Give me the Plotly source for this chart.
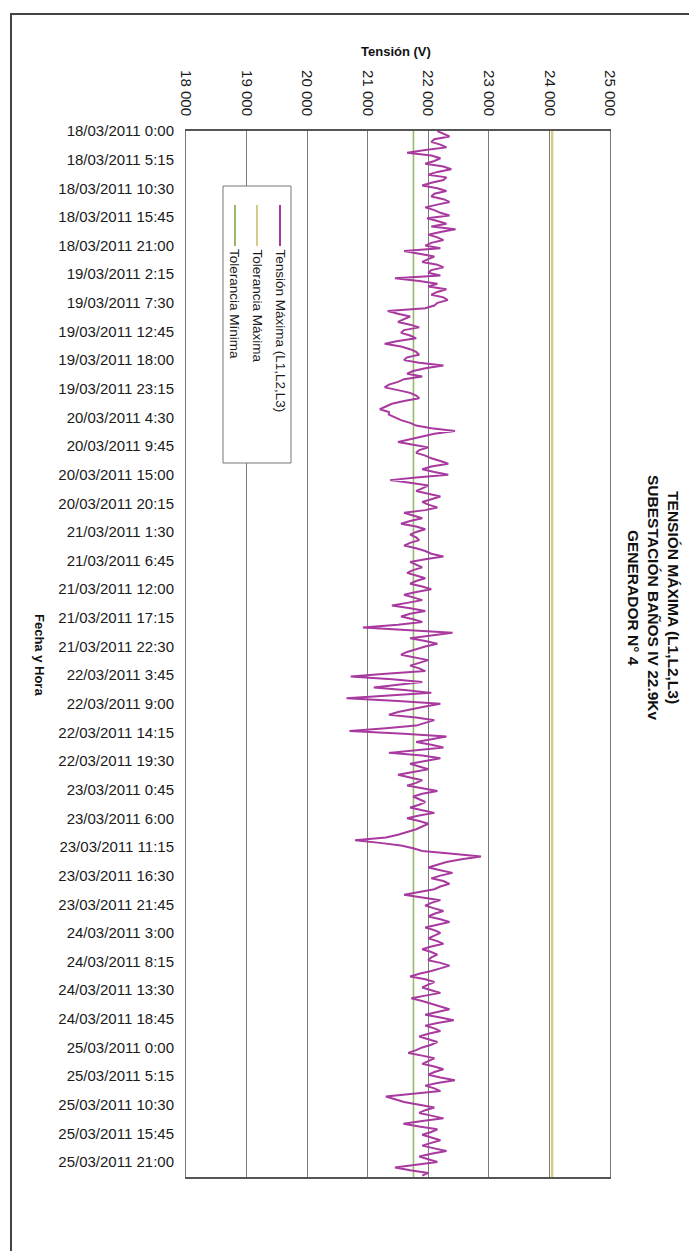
import pandas as pd
import plotly.graph_objects as go

# ---- data ----
start_time = "2011-03-18 00:00"
end_time = "2011-03-25 23:45"
# readings on the hour (hh:00)
tension_hour = [
    22150, 22350, 22050, 22300, 21650, 22200, 21950, 22380, 22000, 22250,
    21900, 22300, 22050, 22350, 21950, 22200, 21980, 22300, 22450, 22000,
    22250, 21950, 21600, 22100, 21900, 22250, 22000, 21450, 22150, 22300,
    22050, 22320, 22100, 21330, 21700, 21500, 21850, 21550, 21800, 21280,
    21700, 21850, 21600, 22250, 21750, 21900, 21500, 21280, 21700, 21850,
    21400, 21200, 21350, 21550, 21800, 22440, 21900, 21500, 22000, 21800,
    22050, 22330, 21900, 22330, 21370, 22000, 21800, 22200, 21900, 22150,
    21600, 21900, 21550, 21950, 21700, 21850, 21600, 21950, 22250, 21700,
    21900, 21650, 21950, 21700, 22050, 21600, 21900, 21400, 21950, 21550,
    21900, 20920, 22400, 21700, 22150, 21800, 21550, 22000, 21700, 21950,
    20720, 21900, 21100, 22050, 20650, 22200, 21700, 21350, 22100, 21800,
    20700, 22300, 21800, 22250, 21350, 22200, 21700, 22000, 21500, 21900,
    21650, 22150, 21750, 21950, 21700, 22100, 21650, 22000, 21800, 21500,
    20790, 21550, 21900, 22870, 22300, 22000, 22400, 22050, 22350, 22100,
    21600, 22200, 21950, 22250, 22000, 22350, 21950, 22200, 22000, 22250,
    21900, 22150, 22000, 22350, 22050, 21700, 22100, 21900, 22200, 21720,
    22050, 22350, 21950, 22420, 21950, 22200, 21850, 22150, 21900, 21670,
    22100, 21900, 22250, 22000, 22440, 21950, 22200, 21300, 21600, 22100,
    21850, 22250, 21590, 22150, 21900, 22200, 21900, 22300, 21850, 22150,
    21450, 22000,
]
# readings on the half hour (hh:30)
tension_half = [
    22250, 22100, 22200, 21950, 22050, 22100, 22250, 22150, 22300, 22050,
    22150, 22100, 22250, 22150, 22100, 22350, 22150, 22050, 22200, 22150,
    22050, 22200, 21850, 22000, 22150, 22050, 22200, 21850, 22000, 22150,
    22250, 22150, 21950, 21500, 21600, 21700, 21600, 21700, 21500, 21550,
    21800, 21650, 21850, 21950, 21650, 21600, 21350, 21500, 21800, 21600,
    21300, 21350, 21450, 21700, 22050, 22100, 21700, 21750, 21850, 21950,
    22200, 22050, 22100, 21800, 21700, 21900, 22000, 22050, 22000, 21950,
    21750, 21700, 21800, 21800, 21800, 21700, 21800, 22050, 21950, 21800,
    21750, 21800, 21800, 21900, 21800, 21750, 21650, 21700, 21700, 21750,
    21500, 21700, 22050, 21950, 21950, 21650, 21750, 21850, 21850, 21300,
    21400, 21500, 21650, 21350, 21500, 21950, 21500, 21800, 21950, 21300,
    21600, 22050, 22050, 21800, 21900, 21950, 21850, 21750, 21700, 21800,
    21900, 21900, 21850, 21850, 21900, 21850, 21850, 21900, 21650, 21300,
    21200, 21750, 22400, 22550, 22150, 22200, 22200, 22250, 22200, 21850,
    21900, 22050, 22100, 22100, 22200, 22150, 22100, 22100, 22150, 22050,
    22050, 22050, 22200, 22200, 21850, 21950, 22000, 22050, 21950, 21900,
    22200, 22150, 22200, 22150, 22100, 22000, 22000, 22050, 21800, 21900,
    22000, 22100, 22100, 22200, 22150, 22100, 21750, 21450, 21850, 21950,
    22050, 21900, 21850, 22050, 22050, 22050, 22100, 22050, 22000, 21800,
    21700, 21900,
]
tolerancia_maxima = 24045
tolerancia_minima = 21755
x_ticks = [18000, 19000, 20000, 21000, 22000, 23000, 24000, 25000]
x_tick_labels = ["18 000", "19 000", "20 000", "21 000", "22 000", "23 000", "24 000", "25 000"]
legend_names = ["Tensión Máxima (L1,L2,L3)", "Tolerancia Máxima", "Tolerancia Mínima"]

tension_max = []
for a, b in zip(tension_hour, tension_half):
    tension_max += [a, b]
times = pd.date_range(start_time, periods=len(tension_max), freq="30min")
tick_times = pd.date_range(start_time, "2011-03-25 21:00", freq="315min")
tick_labels = [f"{t.day:02d}/{t.month:02d}/{t.year} {t.hour}:{t.minute:02d}" for t in tick_times]

C_DATA = "#A8399F"
C_MAX = "#D6CC86"
C_MIN = "#98B86C"
FONT = "Arial, Liberation Sans, sans-serif"

fig = go.Figure()
fig.add_trace(go.Scatter(x=[tolerancia_maxima, tolerancia_maxima], y=[start_time, end_time],
                         mode="lines", line=dict(color=C_MAX, width=2.5), name=legend_names[1]))
fig.add_trace(go.Scatter(x=[tolerancia_minima, tolerancia_minima], y=[start_time, end_time],
                         mode="lines", line=dict(color=C_MIN, width=1.6), name=legend_names[2]))
fig.add_trace(go.Scatter(x=tension_max, y=times, mode="lines",
                         line=dict(color=C_DATA, width=2), name=legend_names[0]))

L, R, T, B = 178, 95, 123, 82
W, H = 697, 1251
pw, ph = W - L - R, H - T - B

def px(x):
    return (x - L) / pw

def py(y):
    return 1 - (y - T) / ph

fig.update_layout(
    width=W, height=H,
    margin=dict(l=L, r=R, t=T, b=B),
    paper_bgcolor="white", plot_bgcolor="white",
    showlegend=False,
    font=dict(family=FONT, color="#1a1a1a"),
    xaxis=dict(side="top", range=[18000, 25000], tickvals=x_ticks, ticktext=x_tick_labels,
               tickangle=90, tickfont=dict(size=15, color="#1a1a1a"),
               showgrid=True, gridcolor="#7a7a7a", gridwidth=1,
               showline=True, mirror=True, linecolor="#555", linewidth=1.5,
               zeroline=False, ticks="", ticklabelstandoff=8),
    yaxis=dict(type="date", range=[end_time, start_time], tickvals=list(tick_times),
               ticktext=tick_labels, tickfont=dict(size=15, color="#1a1a1a"),
               showgrid=False, showline=True, mirror=True, linecolor="#777", linewidth=1,
               zeroline=False, ticks="", ticklabelstandoff=8),
)

shapes = []
# outer frame
shapes.append(dict(type="rect", xref="paper", yref="paper",
                   x0=px(3), x1=px(693), y0=py(1245), y1=py(6),
                   line=dict(color="#444", width=2), fillcolor="rgba(0,0,0,0)"))
# legend box
shapes.append(dict(type="rect", xref="paper", yref="paper",
                   x0=px(215), x1=px(283), y0=py(455), y1=py(178),
                   line=dict(color="#777", width=1), fillcolor="white"))
annotations = []
for xc, col, name in [(272, C_DATA, legend_names[0]), (249, C_MAX, legend_names[1]), (227, C_MIN, legend_names[2])]:
    shapes.append(dict(type="line", xref="paper", yref="paper",
                       x0=px(xc), x1=px(xc), y0=py(197), y1=py(238),
                       line=dict(color=col, width=2)))
    annotations.append(dict(text=name, textangle=90, xref="paper", yref="paper",
                            x=px(xc), y=py(239), xanchor="center", yanchor="top",
                            showarrow=False, font=dict(size=13.5, color="#1a1a1a")))

annotations.append(dict(text="<b>TENSIÓN MÁXIMA (L1,L2,L3)<br>SUBESTACIÓN BAÑOS IV 22.9Kv<br>GENERADOR N° 4</b>",
                        textangle=90, xref="paper", yref="paper", x=px(646), y=py(590),
                        xanchor="center", yanchor="middle", showarrow=False,
                        font=dict(size=15.5, color="#111")))
annotations.append(dict(text="<b>Tensión (V)</b>", xref="paper", yref="paper",
                        x=px(388), y=py(43), xanchor="center", yanchor="middle",
                        showarrow=False, font=dict(size=13, color="#111")))
annotations.append(dict(text="<b>Fecha y Hora</b>", textangle=90, xref="paper", yref="paper",
                        x=px(32), y=py(647), xanchor="center", yanchor="middle",
                        showarrow=False, font=dict(size=13, color="#111")))

fig.update_layout(shapes=shapes, annotations=annotations)
fig.write_html("out.html")
